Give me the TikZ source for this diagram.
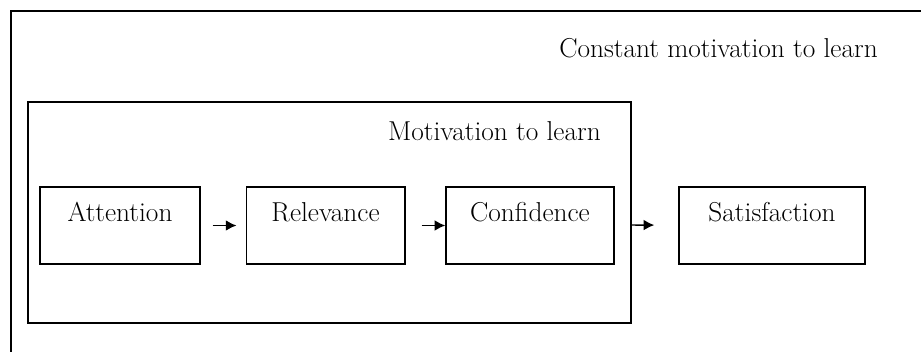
\documentclass[tikz,border=0pt]{standalone}
\usepackage{tikz}
\usetikzlibrary{arrows.meta, positioning}

\tikzset{
    stage/.style={draw, line width=1pt, inner sep=0pt, text height=26pt, text depth=31.75pt},
    flow/.style={-{Latex[length=8pt, width=8pt]}, line width=1.1pt},
    tag/.style={inner sep=0pt, anchor=base east},
}

\begin{document}
\begin{tikzpicture}[x=0.75pt, y=0.75pt, font=\fontsize{20.5}{24}\selectfont]
    \useasboundingbox (0,0) rectangle (921,351);
    \clip (0,0) rectangle (921,351);

    % Outer frame (runs off the page on the right and at the bottom)
    \draw[line width=1.5pt] (11,-20) rectangle (945,340);
    \node[tag] (constant) at (878,293) {Constant motivation to learn};

    % Inner frame
    \draw[line width=1.1pt] (28,28) rectangle (631,249);
    \coordinate (innerright) at (631,126);
    \node[tag] (motivation) at (601,211) {Motivation to learn};

    % Stages
    \node[stage, minimum width=120pt] (att)  at (120,125.5)   {Attention};
    \node[stage, minimum width=119pt] (rel)  at (325.5,125.5) {Relevance};
    \node[stage, minimum width=126pt] (conf) at (530,125.5)   {Confidence};
    \node[stage, minimum width=139.5pt] (sat) at (772,125.5)  {Satisfaction};

    % Arrows between stages
    \draw[flow, shorten <=9pt, shorten >=6.75pt] (att) -- (rel);
    \draw[flow, shorten <=12pt] (rel) -- (conf);
    \draw[flow, shorten >=18pt] (innerright) -- (sat);
\end{tikzpicture}
\end{document}
